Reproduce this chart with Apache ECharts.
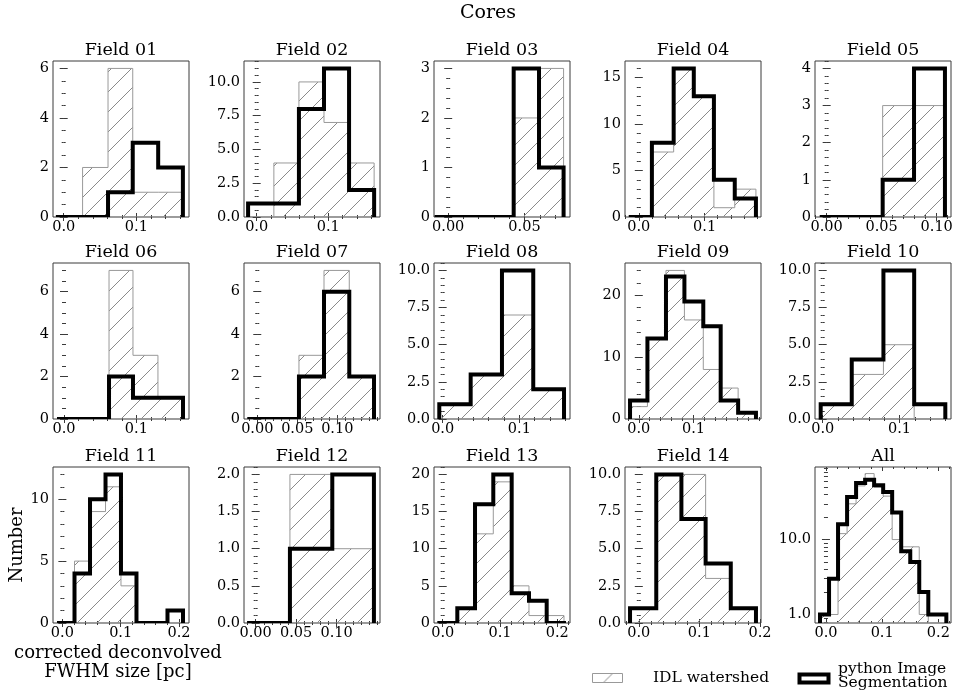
<!DOCTYPE html>
<html><head><meta charset="utf-8">
<script src="https://cdn.jsdelivr.net/npm/echarts@6/dist/echarts.min.js"></script>
<style>html,body{margin:0;padding:0;background:#fff}#chart{width:955px;height:691px}</style>
</head><body><div id="chart"></div>
<script>
// ---------------- data ----------------
const panelTitles = ['Field 01','Field 02','Field 03','Field 04','Field 05',
  'Field 06','Field 07','Field 08','Field 09','Field 10',
  'Field 11','Field 12','Field 13','Field 14','All'];

const binEdges = [
  [-0.008, 0.026, 0.061, 0.095, 0.130, 0.164],
  [-0.012, 0.024, 0.059, 0.094, 0.129, 0.164],
  [-0.0076, 0.0091, 0.0257, 0.0429, 0.0595, 0.0756],
  [-0.0123, 0.0199, 0.053, 0.0836, 0.1142, 0.1459, 0.1781],
  [-0.0045, 0.0232, 0.0509, 0.0794, 0.1075],
  [-0.0069, 0.0276, 0.0622, 0.0953, 0.1298, 0.1644],
  [-0.01, 0.0211, 0.0521, 0.0834, 0.115, 0.1459],
  [-0.0044, 0.0365, 0.0773, 0.1181, 0.1582],
  [-0.016, 0.0158, 0.0497, 0.0834, 0.1179, 0.1497, 0.1816, 0.2142],
  [-0.0026, 0.0378, 0.079, 0.119, 0.1595],
  [-0.0058, 0.0208, 0.0474, 0.074, 0.1005, 0.1271, 0.1537, 0.1803, 0.2069],
  [-0.0079, 0.0423, 0.0946, 0.146],
  [-0.0059, 0.0255, 0.0564, 0.0883, 0.1204, 0.1506, 0.1815, 0.2117],
  [-0.0145, 0.0288, 0.0703, 0.1103, 0.1518, 0.1934],
  [-0.0106, 0.0055, 0.0215, 0.0376, 0.0536, 0.0697, 0.0857, 0.1018, 0.1178, 0.1339, 0.15, 0.166, 0.1821, 0.1981, 0.2142]
];

// IDL watershed counts (grey hatched)
const idlCounts = [
  [0, 2, 6, 1, 1],
  [0, 4, 10, 7, 4],
  [0, 0, 0, 2, 3],
  [0, 7, 16, 13, 1, 3],
  [0, 0, 3, 3],
  [0, 0, 7, 3, 1],
  [0, 0, 3, 7, 2],
  [1, 3, 7, 2],
  [2, 13, 24, 16, 8, 5, 1],
  [1, 3, 5, 0],
  [0, 5, 9, 11, 3, 0, 0, 0],
  [0, 2, 1],
  [0, 2, 12, 19, 5, 1, 1],
  [1, 10, 10, 3, 1],
  [1, 1, 12, 30, 52, 76, 50, 38, 10, 8, 8, 1, 0, 0]
];

// python Image Segmentation counts (thick black step)
const pyCounts = [
  [0, 0, 1, 3, 2],
  [1, 1, 8, 11, 2],
  [0, 0, 0, 3, 1],
  [0, 8, 16, 13, 4, 2],
  [0, 0, 1, 4],
  [0, 0, 2, 1, 1],
  [0, 0, 2, 6, 2],
  [1, 3, 10, 2],
  [3, 13, 23, 19, 15, 3, 1],
  [1, 4, 10, 1],
  [0, 4, 10, 12, 4, 0, 0, 1],
  [0, 1, 2],
  [0, 2, 16, 20, 4, 3, 0],
  [1, 10, 7, 4, 1],
  [1, 3, 16, 37, 57, 63, 53, 43, 23, 7, 5, 2, 1, 1]
];

const xLimits = [
  [-0.0147, 0.1724], [-0.0177, 0.1722], [-0.0093, 0.0798], [-0.021, 0.1858], [-0.0106, 0.113],
  [-0.0152, 0.1727], [-0.0166, 0.1534], [-0.0113, 0.166], [-0.0252, 0.2234], [-0.01, 0.1669],
  [-0.0161, 0.2172], [-0.0144, 0.1535], [-0.0152, 0.2222], [-0.0228, 0.2017], [-0.0195, 0.2225]
];

const xTickLabels = [
  ['0.0','0.1'], ['0.0','0.1'], ['0.00','0.05'], ['0.0','0.1'], ['0.00','0.05','0.10'],
  ['0.0','0.1'], ['0.00','0.05','0.10'], ['0.0','0.1'], ['0.0','0.1'], ['0.0','0.1'],
  ['0.0','0.1','0.2'], ['0.00','0.05','0.10'], ['0.0','0.1','0.2'], ['0.0','0.1','0.2'], ['0.0','0.1','0.2']
];

const yTickLabels = [
  ['0','2','4','6'], ['0.0','2.5','5.0','7.5','10.0'], ['0','1','2','3'], ['0','5','10','15'], ['0','1','2','3','4'],
  ['0','2','4','6'], ['0','2','4','6'], ['0.0','2.5','5.0','7.5','10.0'], ['0','10','20'], ['0.0','2.5','5.0','7.5','10.0'],
  ['0','5','10'], ['0.0','0.5','1.0','1.5','2.0'], ['0','5','10','15','20'], ['0.0','2.5','5.0','7.5','10.0'], ['1.0','10.0']
];

const logPanel = 14;
const logYLimits = [0.77, 93];
const logMinorTicks = [0.8, 0.9, 2, 3, 4, 5, 6, 7, 8, 9, 20, 30, 40, 50, 60, 70, 80, 90];

const seriesNames = ['IDL watershed', 'python Image\nSegmentation'];

// ---------------- layout / style ----------------
const W = 136, H = 156;
const colLeft = [53, 244, 434, 625, 815];
const rowTop = [61, 263, 467];
const FONT = 'DejaVu Serif';
const SPINE = '#3a3a3a';
const GREY_EDGE = '#999999';

function hatchPattern() {
  const s = 20, c = document.createElement('canvas');
  c.width = s; c.height = s;
  const g = c.getContext('2d');
  g.strokeStyle = '#8a8a8a'; g.lineWidth = 1;
  g.beginPath();
  for (const o of [-s, 0, s]) { g.moveTo(o - 1, s + 1); g.lineTo(o + s + 1, -1); }
  g.stroke();
  return c;
}
const hatch = { image: hatchPattern(), repeat: 'repeat' };

function minorStep(step) {
  const e = Math.pow(10, Math.floor(Math.log10(step)));
  const m = step / e;
  const five = [1, 2.5, 5, 10].some(v => Math.abs(v - m) < 1e-6);
  return step / (five ? 5 : 4);
}
function seq(min, max, step) {
  const out = [];
  for (let k = Math.ceil(min / step - 1e-9); k * step <= max + 1e-12; k++) out.push(+(k * step).toFixed(8));
  return out;
}

const grids = [], xAxes = [], yAxes = [], series = [], titles = [];

titles.push({ text: 'Cores', left: 488, top: 4, textAlign: 'center', padding: 0,
  textStyle: { fontFamily: FONT, fontSize: 19, fontWeight: 'normal', color: '#000' } });

panelTitles.forEach((name, i) => {
  const r = Math.floor(i / 5), c = i % 5;
  const left = colLeft[c], top = rowTop[r];
  const isLog = i === logPanel;
  grids.push({ left, top, width: W, height: H, show: true, borderColor: SPINE, borderWidth: 1,
    backgroundColor: 'transparent', containLabel: false, outerBoundsMode: 'none' });
  titles.push({ text: name, left: left + W / 2, top: top - 20, textAlign: 'center', padding: 0,
    textStyle: { fontFamily: FONT, fontSize: 17.5, fontWeight: 'normal', color: '#000' } });

  const [xmin, xmax] = xLimits[i];
  const xt = xTickLabels[i].map(Number);
  const xMinor = seq(xmin, xmax, minorStep(xt[1] - xt[0]));
  const allCounts = idlCounts[i].concat(pyCounts[i]);
  const ymin = isLog ? logYLimits[0] : 0;
  const ymax = isLog ? logYLimits[1] : 1.05 * Math.max(...allCounts);
  const yt = yTickLabels[i].map(Number);
  const yMinor = isLog ? logMinorTicks : seq(ymin, ymax, minorStep(yt[1] - yt[0]));

  const labelX = {
    show: true, customValues: xt, margin: 3, fontFamily: FONT, fontSize: 14.5, color: '#000',
    formatter: v => { const k = xt.findIndex(t => Math.abs(t - v) < 1e-9); return k >= 0 ? xTickLabels[i][k] : ''; }
  };
  const labelY = {
    show: true, customValues: yt, margin: 4, fontFamily: FONT, fontSize: 14.5, color: '#000',
    formatter: v => { const k = yt.findIndex(t => Math.abs(t - v) < 1e-9 * Math.max(1, Math.abs(t))); return k >= 0 ? yTickLabels[i][k] : ''; }
  };
  const mkX = (pos, ticks, len, label) => ({
    gridIndex: i, type: 'value', position: pos, min: xmin, max: xmax,
    axisLine: { show: false }, splitLine: { show: false },
    axisTick: { show: true, inside: true, length: len, customValues: ticks, lineStyle: { color: SPINE, width: 1 } },
    axisLabel: label || { show: false }
  });
  const mkY = (pos, ticks, len, label) => ({
    gridIndex: i, type: isLog ? 'log' : 'value', logBase: 10, position: pos, min: ymin, max: ymax,
    axisLine: { show: false }, splitLine: { show: false },
    axisTick: { show: true, inside: true, length: len, customValues: ticks, lineStyle: { color: SPINE, width: 1 } },
    axisLabel: label || { show: false }
  });
  const xa = mkX('bottom', xt, 4, labelX);
  const ya = mkY('left', yt, 4, labelY);
  if (i === 10) {
    xa.name = 'corrected deconvolved\nFWHM size [pc]';
    xa.nameLocation = 'middle'; xa.nameGap = 21;
    xa.nameTextStyle = { fontFamily: FONT, fontSize: 18, color: '#000', lineHeight: 19, verticalAlign: 'top', padding: [0, 6, 0, 0] };
    ya.name = 'Number';
    ya.nameLocation = 'middle'; ya.nameGap = 26;
    ya.nameTextStyle = { fontFamily: FONT, fontSize: 18, color: '#000' };
  }
  xAxes.push(xa, mkX('bottom', xMinor, 2), mkX('top', xt, 4), mkX('top', xMinor, 2));
  yAxes.push(ya, mkY('left', yMinor, 2), mkY('right', yt, 4), mkY('right', yMinor, 2));

  const edges = binEdges[i];
  const toPts = (counts, api) => {
    const base = ymin;
    const v = c => (isLog ? Math.max(c, ymin) : c);
    const pts = [api.coord([edges[0], base])];
    counts.forEach((cnt, k) => {
      pts.push(api.coord([edges[k], v(cnt)]));
      pts.push(api.coord([edges[k + 1], v(cnt)]));
    });
    pts.push(api.coord([edges[edges.length - 1], base]));
    return pts;
  };
  series.push({
    name: seriesNames[0], type: 'custom', xAxisIndex: 4 * i, yAxisIndex: 4 * i, clip: true, silent: true, z: 2,
    data: [0],
    renderItem: (params, api) => ({
      type: 'polygon', shape: { points: toPts(idlCounts[i], api) },
      style: { fill: hatch, stroke: GREY_EDGE, lineWidth: 1 }
    })
  });
  series.push({
    name: seriesNames[1], type: 'custom', xAxisIndex: 4 * i, yAxisIndex: 4 * i, clip: true, silent: true, z: 3,
    data: [0],
    renderItem: (params, api) => ({
      type: 'polyline', shape: { points: toPts(pyCounts[i], api) },
      style: { fill: null, stroke: '#000', lineWidth: 4, lineJoin: 'miter', lineCap: 'square' }
    })
  });
});

const graphics = [
  { type: 'rect', left: 592, top: 673, shape: { width: 30, height: 9 }, style: { fill: hatch, stroke: GREY_EDGE, lineWidth: 1 }, silent: true },
  { type: 'text', left: 653, top: 670, style: { text: seriesNames[0], font: '15.5px "DejaVu Serif"', fill: '#000' }, silent: true },
  { type: 'rect', left: 797, top: 672, shape: { width: 29, height: 8 }, style: { fill: 'none', stroke: '#000', lineWidth: 4 }, silent: true },
  { type: 'text', left: 838, top: 661, style: { text: seriesNames[1], font: '15.5px "DejaVu Serif"', fill: '#000', lineHeight: 13.5 }, silent: true }
];

const chart = echarts.init(document.getElementById('chart'), null, { renderer: 'canvas', width: 955, height: 691 });
chart.setOption({
  backgroundColor: '#fff',
  animation: false,
  title: titles,
  grid: grids,
  xAxis: xAxes,
  yAxis: yAxes,
  series: series,
  graphic: graphics
});
</script></body></html>
